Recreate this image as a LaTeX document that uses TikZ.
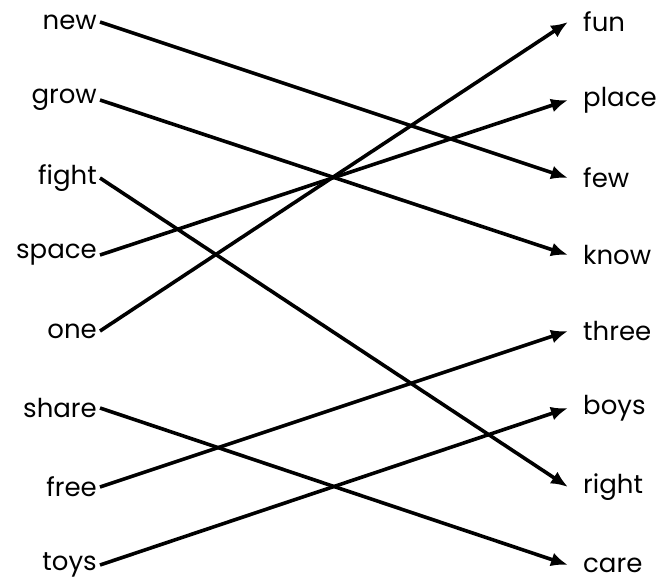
\documentclass[tikz,border=0pt]{standalone}
\usepackage{fontspec}
\setmainfont{Poppins}
\usetikzlibrary{arrows.meta}

\begin{document}
\begin{tikzpicture}[
    x=1pt, y=-1pt,
    word/.style={font=\fontsize{26}{28}\selectfont, inner sep=2pt},
    leftword/.style={word, anchor=east, inner xsep=3pt},
    rightword/.style={word, anchor=west, inner xsep=15pt},
    match/.style={-{Latex[length=17pt,width=14pt]}, line width=3.6pt, draw=black}
]
\useasboundingbox (0,0) rectangle (662,584);

% left column
\node[leftword] (new) at (100,22) {new};
\node[leftword] (grow) at (100,100) {grow};
\node[leftword] (fight) at (100,178) {fight};
\node[leftword] (space) at (100,255) {space};
\node[leftword] (one) at (100,331) {one};
\node[leftword] (share) at (100,408) {share};
\node[leftword] (free) at (100,487) {free};
\node[leftword] (toys) at (100,565) {toys};

% right column
\node[rightword] (fun) at (568,22) {fun};
\node[rightword] (place) at (568,100) {place};
\node[rightword] (few) at (568,178) {few};
\node[rightword] (know) at (568,255) {know};
\node[rightword] (three) at (568,331) {three};
\node[rightword] (boys) at (568,408) {boys};
\node[rightword] (right) at (568,487) {right};
\node[rightword] (care) at (568,565) {care};

\draw[match] (new.east) -- (few.west);
\draw[match] (grow.east) -- (know.west);
\draw[match] (fight.east) -- (right.west);
\draw[match] (space.east) -- (place.west);
\draw[match] (one.east) -- (fun.west);
\draw[match] (share.east) -- (care.west);
\draw[match] (free.east) -- (three.west);
\draw[match] (toys.east) -- (boys.west);
\end{tikzpicture}
\end{document}
